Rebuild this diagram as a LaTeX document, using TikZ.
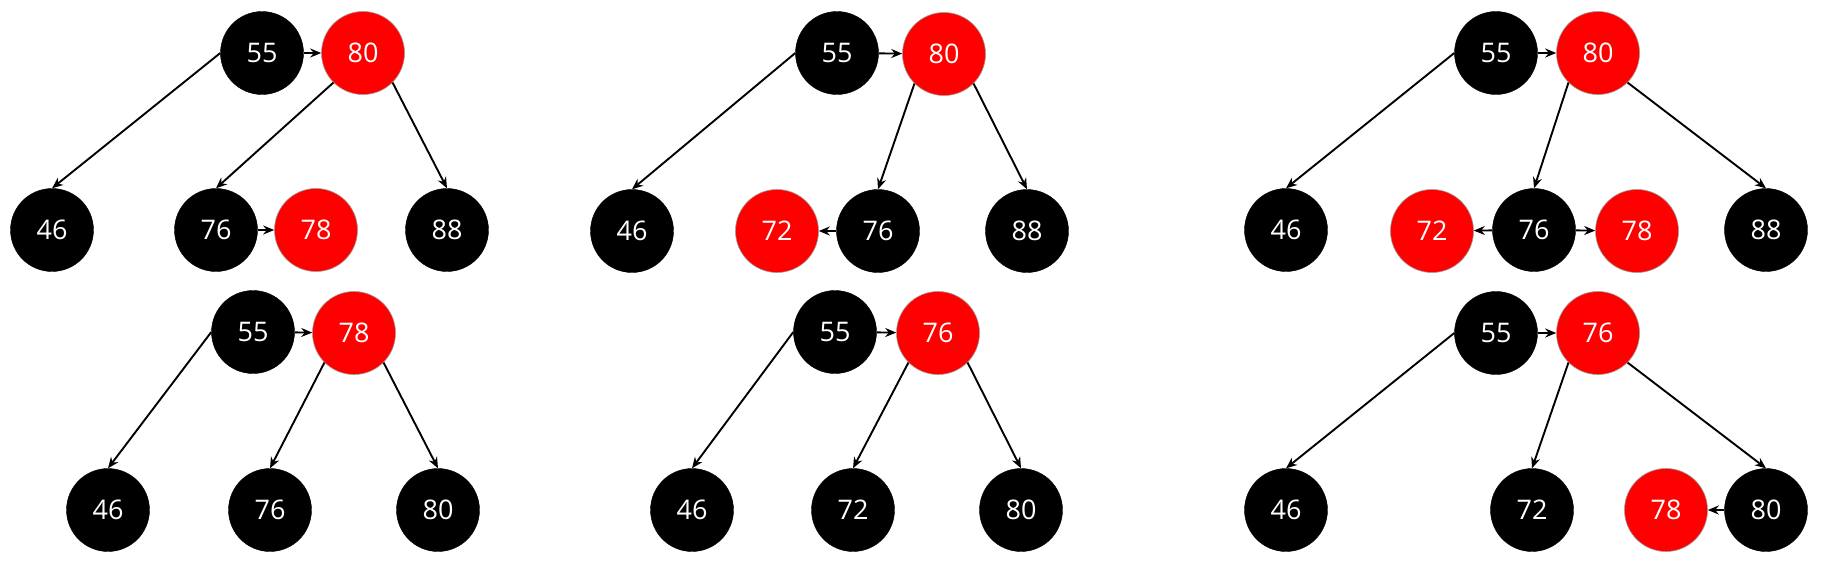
\documentclass[tikz,border=0pt]{standalone}
\usepackage{fontspec}
\setmainfont{Open Sans}
\usetikzlibrary{arrows.meta}
\begin{document}
\begin{tikzpicture}[x=1pt,y=-1pt,>={Stealth[length=11pt,width=9pt]},
  blk/.style={circle,fill=black,draw=black,minimum size=83pt,inner sep=0pt,text=white,font=\fontsize{27}{30}\selectfont},
  rd/.style={blk,fill=red,draw=black!40,line width=0.6pt},
  lnk/.style={->,line width=1.9pt}]
\useasboundingbox (0,0) rectangle (1822,560);
% top left
\node[blk] (a55) at (262,53) {55};
\node[rd] (a80) at (363,53) {80};
\node[blk] (a46) at (52,230) {46};
\node[blk] (a76) at (216,230) {76};
\node[rd] (a78) at (316,230) {78};
\node[blk] (a88) at (447,230) {88};
\draw[lnk] (a55) -- (a80);
\draw[lnk] (a80.south west) -- (a76.north);
\draw[lnk] (a80.south east) -- (a88.north);
\draw[lnk] (a76) -- (a78);
% top middle
\node[blk] (b55) at (837,53) {55};
\node[rd] (b80) at (944,54) {80};
\node[blk] (b46) at (632,231) {46};
\node[rd] (b72) at (777,231) {72};
\node[blk] (b76) at (878,231) {76};
\node[blk] (b88) at (1027,231) {88};
\draw[lnk] (b55) -- (b80);
\draw[lnk] (b80.south west) -- (b76.north);
\draw[lnk] (b80.south east) -- (b88.north);
\draw[lnk] (b76) -- (b72);
% top right
\node[blk] (c55) at (1496,53) {55};
\node[rd] (c80) at (1598,53) {80};
\node[blk] (c46) at (1286,230) {46};
\node[rd] (c72) at (1432,231) {72};
\node[blk] (c76) at (1534,230) {76};
\node[rd] (c78) at (1637,231) {78};
\node[blk] (c88) at (1766,230) {88};
\draw[lnk] (c55) -- (c80);
\draw[lnk] (c80.south west) -- (c76.north);
\draw[lnk] (c80.south east) -- (c88.north);
\draw[lnk] (c76) -- (c72);
\draw[lnk] (c76) -- (c78);
% bottom left
\node[blk] (d55) at (253,332) {55};
\node[rd] (d78) at (354,333) {78};
\node[blk] (d46) at (108,510) {46};
\node[blk] (d76) at (270,510) {76};
\node[blk] (d80) at (438,510) {80};
\draw[lnk] (d55) -- (d78);
\draw[lnk] (d78.south west) -- (d76.north);
\draw[lnk] (d78.south east) -- (d80.north);
% bottom middle
\node[blk] (e55) at (835,332) {55};
\node[rd] (e76) at (938,333) {76};
\node[blk] (e46) at (692,510) {46};
\node[blk] (e72) at (853,510) {72};
\node[blk] (e80) at (1021,510) {80};
\draw[lnk] (e55) -- (e76);
\draw[lnk] (e76.south west) -- (e72.north);
\draw[lnk] (e76.south east) -- (e80.north);
% bottom right
\node[blk] (f55) at (1496,333) {55};
\node[rd] (f76) at (1598,333) {76};
\node[blk] (f46) at (1286,510) {46};
\node[blk] (f72) at (1532,510) {72};
\node[rd] (f78) at (1666,510) {78};
\node[blk] (f80) at (1766,510) {80};
\draw[lnk] (f55) -- (f76);
\draw[lnk] (f76.south west) -- (f72.north);
\draw[lnk] (f76.south east) -- (f80.north);
\draw[lnk] (f80) -- (f78);
% 55 to 46 in every panel
\foreach \p in {a,b,c,d,e,f}
\draw[lnk] (\p55.west) -- (\p46.north);
\end{tikzpicture}
\end{document}
